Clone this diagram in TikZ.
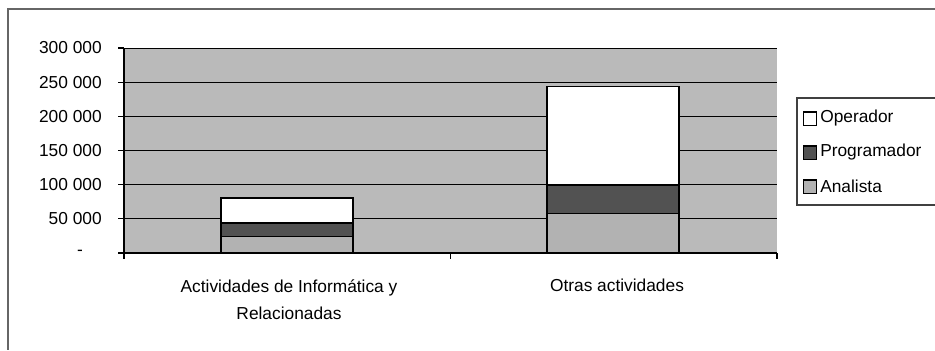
\documentclass[tikz,border=0pt]{standalone}
\usepackage{fontspec}
\setmainfont{Liberation Sans}
\begin{document}
\begin{tikzpicture}[x=0.75pt,y=-0.75pt,
  lbl/.style={font=\fontsize{13}{20}\selectfont, inner sep=0pt},
  grid/.style={black, line width=0.7pt},
  barbox/.style={draw=black, line width=1.3pt},
  opfill/.style={fill=white},
  prfill/.style={fill=black!68},
  anfill/.style={fill=black!30},
  swatch/.style={draw=black, line width=1pt, minimum size=10pt, inner sep=0pt},
  frameline/.style={black!60, line width=0.8pt}]
\useasboundingbox (0,0) rectangle (935,350);
% outer frame (top and left only visible)
\coordinate (fTL) at (8,9);
\coordinate (fTR) at (935,9);
\coordinate (fBL) at (8,350);
\draw[frameline] (fTR) -- (fTL) -- (fBL);
% plot area
\coordinate (pTL) at (124,48);
\coordinate (pBR) at (777,253);
\fill[black!27] (pTL) rectangle (pBR);
% gridlines
\foreach \y in {48,82.2,116.3,150.5,184.7,218.8}{
  \draw[grid] (124,\y) -- (777,\y);
}
% bars
% bar 1
\fill[anfill] (221,253) rectangle (353,236.5);
\fill[prfill] (221,236.5) rectangle (353,223);
\fill[opfill] (221,223) rectangle (353,198);
\draw[black,line width=1pt] (221,236.5) -- (353,236.5) (221,223) -- (353,223);
\draw[barbox] (221,253) rectangle (353,198);
% bar 2
\fill[anfill] (547,253) rectangle (679,213.5);
\fill[prfill] (547,213.5) rectangle (679,185);
\fill[opfill] (547,185) rectangle (679,86.5);
\draw[black,line width=1pt] (547,213.5) -- (679,213.5) (547,185) -- (679,185);
\draw[barbox] (547,253) rectangle (679,86.5);
% axes
\draw[black, line width=1pt] (124,48) -- (124,253) -- (777,253);
\foreach \y in {48,82.2,116.3,150.5,184.7,218.8,253}{
  \draw[black, line width=0.8pt] (118,\y) -- (124,\y);
}
\foreach \x in {124,450.5,777}{
  \draw[black, line width=0.8pt] (\x,253) -- (\x,259);
}
% y labels
\node[lbl, anchor=east] (y300) at (102,48) {300 000};
\node[lbl, anchor=east] (y250) at (102,82.2) {250 000};
\node[lbl, anchor=east] (y200) at (102,116.3) {200 000};
\node[lbl, anchor=east] (y150) at (102,150.5) {150 000};
\node[lbl, anchor=east] (y100) at (102,184.7) {100 000};
\node[lbl, anchor=east] (y50) at (102,218.8) {50 000};
\node[lbl] (y0) at (80,253) {-};
% category labels
\node[lbl, align=center] (c1) at (289,299.5) {Actividades de Informática y\\Relacionadas};
\node[lbl] (c2) at (617,285) {Otras actividades};
% legend
\coordinate (lTR) at (935,98);
\coordinate (lTL) at (797,98);
\coordinate (lBL) at (797,205);
\coordinate (lBR) at (935,205);
\draw[black!75, line width=0.8pt] (lTR) -- (lTL) -- (lBL) -- (lBR);
\node[swatch, opfill] (s1) at (810,118.5) {};
\node[swatch, prfill] (s2) at (810,152.5) {};
\node[swatch, anfill] (s3) at (810,186.5) {};
\node[lbl, anchor=west] (t1) at (820,118.5) {Operador};
\node[lbl, anchor=west] (t2) at (820,152.5) {Programador};
\node[lbl, anchor=west] (t3) at (820,186.5) {Analista};
\end{tikzpicture}
\end{document}
